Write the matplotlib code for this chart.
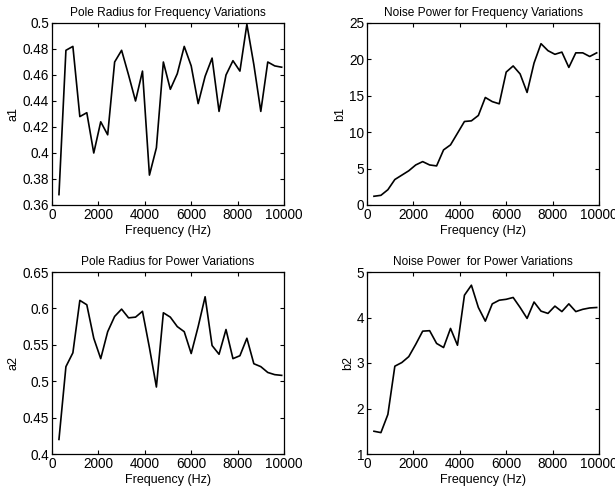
import matplotlib
matplotlib.use("Agg")
import matplotlib.pyplot as plt
from matplotlib.ticker import FuncFormatter

plt.rcParams['font.family'] = ['Liberation Sans', 'DejaVu Sans']

freq = list(range(300, 10000, 300))

a1 = [0.368, 0.479, 0.482, 0.428, 0.431, 0.400, 0.424, 0.414, 0.470, 0.479,
      0.460, 0.440, 0.463, 0.383, 0.404, 0.470, 0.449, 0.461, 0.482, 0.467,
      0.438, 0.459, 0.473, 0.432, 0.460, 0.471, 0.463, 0.499, 0.468, 0.432,
      0.470, 0.467, 0.466]

b1 = [1.2, 1.33, 2.1, 3.5, 4.1, 4.7, 5.5, 5.96, 5.5, 5.37,
      7.57, 8.26, 9.86, 11.47, 11.56, 12.3, 14.77, 14.2, 13.9, 18.26,
      19.1, 18.0, 15.46, 19.5, 22.16, 21.2, 20.7, 21.0, 18.9, 20.9,
      20.9, 20.4, 20.9]

a2 = [0.420, 0.520, 0.539, 0.611, 0.605, 0.559, 0.531, 0.568, 0.589, 0.599,
      0.587, 0.588, 0.596, 0.546, 0.492, 0.594, 0.588, 0.575, 0.568, 0.538,
      0.575, 0.616, 0.549, 0.537, 0.571, 0.531, 0.535, 0.559, 0.524, 0.520,
      0.512, 0.509, 0.508]

b2 = [1.50, 1.47, 1.87, 2.93, 3.01, 3.14, 3.41, 3.70, 3.71, 3.43,
      3.34, 3.76, 3.39, 4.49, 4.71, 4.22, 3.92, 4.30, 4.38, 4.40,
      4.44, 4.22, 3.98, 4.34, 4.14, 4.09, 4.25, 4.13, 4.30, 4.13,
      4.18, 4.21, 4.22]

titles = ["Pole Radius for Frequency Variations", "Noise Power for Frequency Variations",
          "Pole Radius for Power Variations", "Noise Power  for Power Variations"]
ylabels = ["a1", "b1", "a2", "b2"]
ylims = [(0.36, 0.5), (0, 25), (0.4, 0.65), (1, 5)]
yticks = [[0.36, 0.38, 0.4, 0.42, 0.44, 0.46, 0.48, 0.5],
          [0, 5, 10, 15, 20, 25],
          [0.4, 0.45, 0.5, 0.55, 0.6, 0.65],
          [1, 2, 3, 4, 5]]
xticks = [0, 2000, 4000, 6000, 8000, 10000]
series = [a1, b1, a2, b2]

W, H = 615, 493
fig = plt.figure(figsize=(W / 100, H / 100), dpi=100)
boxes = [(52, 284, 23, 205), (367, 599, 23, 205), (52, 284, 272, 454), (367, 599, 272, 454)]

for i in range(4):
    l, r, t, b = boxes[i]
    ax = fig.add_axes([l / W, 1 - b / H, (r - l) / W, (b - t) / H])
    ax.plot(freq, series[i], color='black', linewidth=1.2)
    ax.set_xlim(0, 10000)
    ax.set_ylim(*ylims[i])
    ax.set_xticks(xticks)
    ax.set_yticks(yticks[i])
    ax.yaxis.set_major_formatter(FuncFormatter(lambda v, p: '%g' % round(v, 4)))
    ax.tick_params(direction='in', top=True, right=True, length=3, width=0.8,
                   labelsize=9.8, pad=2)
    for s in ax.spines.values():
        s.set_linewidth(0.9)
    ax.set_title(titles[i], fontsize=8.6, pad=5)
    ax.set_xlabel("Frequency (Hz)", fontsize=9, labelpad=2)
    ax.set_ylabel(ylabels[i], fontsize=9, labelpad=2)

fig.savefig("out.png", dpi=100)
